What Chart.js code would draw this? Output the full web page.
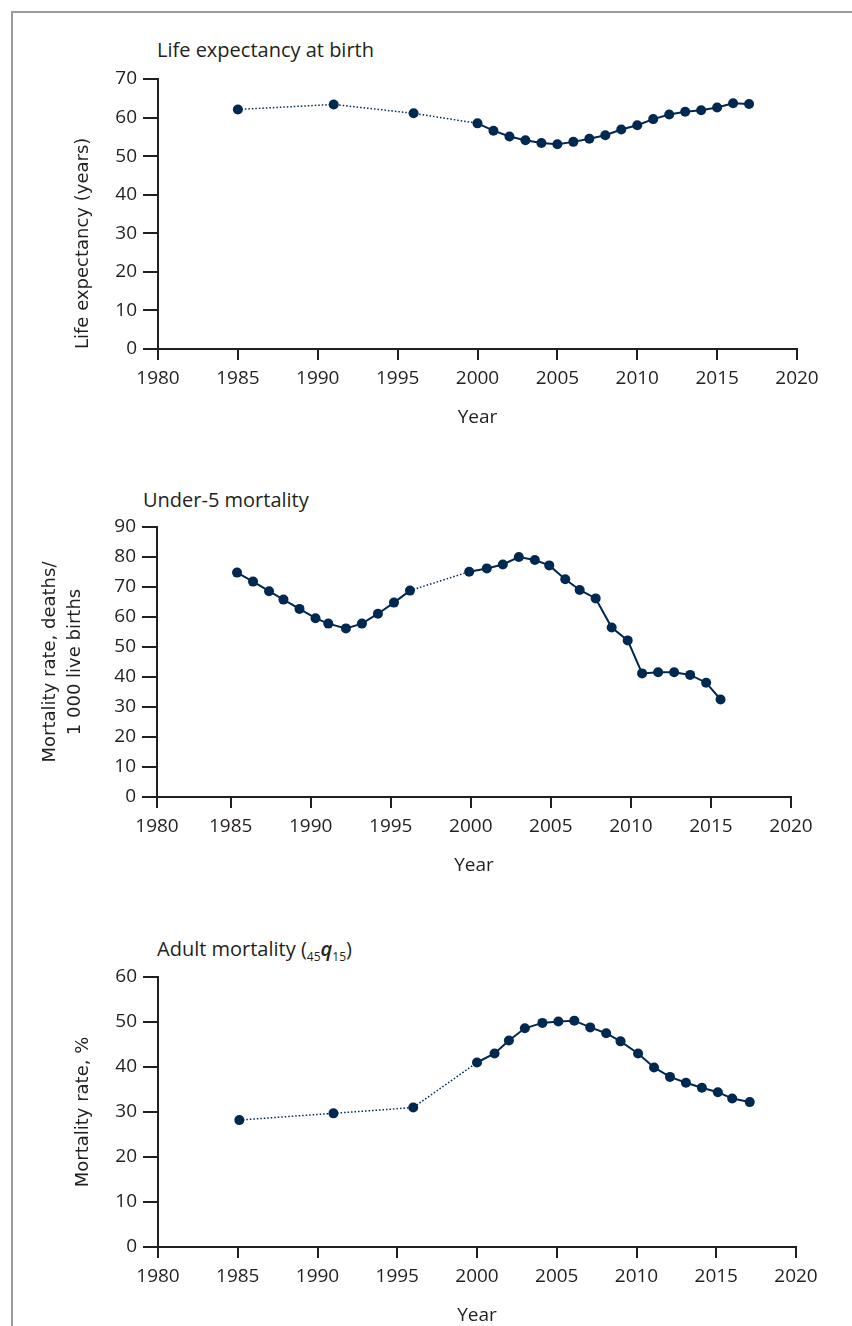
<!DOCTYPE html>
<html>
<head>
<meta charset="utf-8">
<script src="https://cdn.jsdelivr.net/npm/chart.js@4.4.0/dist/chart.umd.min.js"></script>
<style>
  html, body { margin: 0; padding: 0; background: #fff; overflow: hidden; }
  body { width: 852px; height: 1326px; position: relative; }
  .frame { position: absolute; left: 11px; top: 11px; width: 900px; height: 1400px;
           border: 2px solid #9a9a9a; box-sizing: border-box; }
  .ttl { position: absolute; font-family: "Open Sans"; font-size: 20px; color: #231f20;
         white-space: nowrap; line-height: 24px; }
  .ttl sub { font-size: 12px; vertical-align: -5px; line-height: 0; }
  .ttl i { font-weight: 600; }
  canvas { position: absolute; left: 0; }
</style>
</head>
<body>
<div class="frame"></div>
<div class="ttl" style="left:157px; top:38px;">Life expectancy at birth</div>
<div class="ttl" style="left:143px; top:488px;">Under-5 mortality</div>
<div class="ttl" style="left:157px; top:937px;">Adult mortality (<sub>45</sub><i>q</i><sub>15</sub>)</div>

<canvas id="life" width="852" height="374" style="top:60px;"></canvas>
<canvas id="under5" width="852" height="374" style="top:508px;"></canvas>
<canvas id="adult" width="852" height="374" style="top:958px;"></canvas>

<script>
// x axis tick labels, shared by the three panels
const yearTicks = [1980, 1985, 1990, 1995, 2000, 2005, 2010, 2015, 2020];

// Life expectancy at birth (years)
const lifeYears = [1985, 1991, 1996, 2000, 2001, 2002, 2003, 2004, 2005, 2006, 2007,
                   2008, 2009, 2010, 2011, 2012, 2013, 2014, 2015, 2016, 2017];
const lifeValues = [62.1, 63.4, 61.1, 58.5, 56.6, 55.1, 54.1, 53.4, 53.1, 53.7, 54.5,
                    55.4, 56.9, 58.0, 59.6, 60.8, 61.5, 61.9, 62.6, 63.7, 63.5];

// Under-5 mortality (deaths per 1 000 live births)
const u5Years = [1985.4, 1986.4, 1987.4, 1988.3, 1989.3, 1990.3, 1991.1, 1992.2, 1993.2,
                 1994.2, 1995.2, 1996.2, 1999.9, 2001, 2002, 2003, 2004, 2004.9, 2005.9,
                 2006.8, 2007.8, 2008.8, 2009.8, 2010.7, 2011.7, 2012.7, 2013.7, 2014.7, 2015.6];
const u5Values = [74.8, 71.8, 68.6, 65.8, 62.7, 59.6, 57.8, 56.2, 57.8,
                  61.1, 64.8, 68.8, 75.1, 76.2, 77.5, 80.0, 79.0, 77.2, 72.6,
                  69.0, 66.2, 56.5, 52.2, 41.2, 41.6, 41.6, 40.7, 38.1, 32.5];

// Adult mortality 45q15 (%)
const adultYears = [1985.1, 1991, 1996, 2000, 2001.1, 2002, 2003, 2004.1, 2005.1, 2006.1, 2007.1,
                    2008.1, 2009, 2010.1, 2011.1, 2012.1, 2013.1, 2014.1, 2015.1, 2016, 2017.1];
const adultValues = [28.2, 29.7, 31.0, 41.0, 43.0, 45.9, 48.6, 49.8, 50.1, 50.3, 48.8,
                     47.5, 45.7, 43.0, 39.9, 37.8, 36.5, 35.4, 34.4, 33.0, 32.2];

const navy = '#002850';
const ink = '#231f20';
const tickFont = { family: 'Open Sans', size: 19 };
const axisFont = { family: 'DejaVu Sans', size: 18 };

function drawPanel(id, years, values, cfg) {
  const ctx = document.getElementById(id);
  const gap = c => c.p1.parsed.x - c.p0.parsed.x > 1.5;
  return new Chart(ctx, {
    type: 'line',
    data: {
      datasets: [{
        data: years.map((x, i) => ({ x: x, y: values[i] })),
        borderColor: navy,
        borderWidth: 2,
        pointRadius: 5,
        pointHoverRadius: 5,
        pointBorderWidth: 0,
        pointBackgroundColor: navy,
        tension: 0,
        segment: {
          borderDash: c => gap(c) ? [1.5, 2] : undefined,
          borderWidth: c => gap(c) ? 1.5 : 2
        }
      }]
    },
    options: {
      responsive: false,
      animation: false,
      events: [],
      layout: { padding: { top: cfg.top, right: cfg.right, bottom: 0, left: 0 } },
      plugins: { legend: { display: false }, tooltip: { enabled: false } },
      scales: {
        x: {
          type: 'linear',
          min: cfg.xMin,
          max: 2020,
          afterBuildTicks: s => { s.ticks = yearTicks.map((v, i) => ({ value: i === 0 ? s.min : v })); },
          afterFit: s => { s.height = 85; },
          ticks: { autoSkip: false, maxRotation: 0, color: ink, font: tickFont, padding: 7,
                   callback: (v, i) => yearTicks[i] },
          grid: { drawOnChartArea: false, tickLength: 11, color: ink, lineWidth: 2 },
          border: { display: true, color: ink, width: 2 },
          title: { display: true, text: 'Year', color: ink, font: tickFont,
                   padding: { top: 0, bottom: 5 } }
        },
        y: {
          min: 0,
          max: cfg.yMax,
          afterFit: s => { s.width = cfg.left; },
          ticks: { stepSize: 10, color: ink, font: tickFont, padding: 6 },
          grid: { drawOnChartArea: false, tickLength: 15, color: ink, lineWidth: 2 },
          border: { display: true, color: ink, width: 2 },
          title: { display: true, text: cfg.yTitle, color: ink, align: cfg.yAlign,
                   font: Object.assign({}, axisFont, { lineHeight: cfg.lineHeight }),
                   padding: { top: cfg.titlePad, bottom: 0 } }
        }
      }
    }
  });
}

drawPanel('life', lifeYears, lifeValues, {
  top: 19, right: 55, left: 158, xMin: 1980, yMax: 70,
  yTitle: 'Life expectancy (years)', yAlign: 'start', lineHeight: 1.2, titlePad: 72.2
});
drawPanel('under5', u5Years, u5Values, {
  top: 19, right: 61, left: 157, xMin: 1980.4, yMax: 90,
  yTitle: ['Mortality rate, deaths/', '1 000 live births'], yAlign: 'center',
  lineHeight: 1.39, titlePad: 37.5
});
drawPanel('adult', adultYears, adultValues, {
  top: 19, right: 56, left: 158, xMin: 1980, yMax: 60,
  yTitle: 'Mortality rate, %', yAlign: 'center', lineHeight: 1.2, titlePad: 72.2
});
</script>
</body>
</html>
